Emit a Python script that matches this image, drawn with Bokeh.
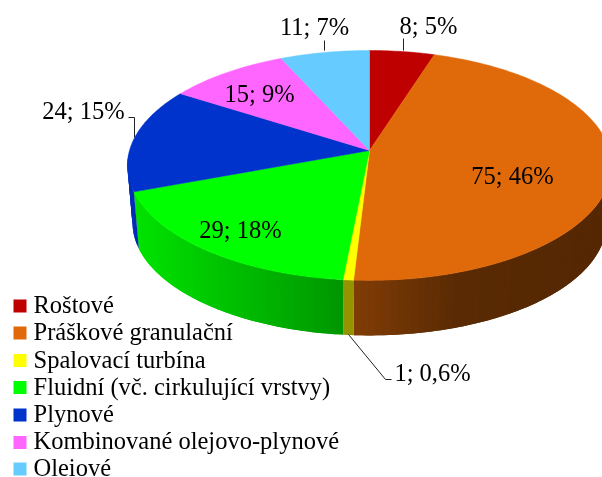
import numpy as np
from bokeh.core.properties import value
from bokeh.embed import file_html
from bokeh.models import Range1d
from bokeh.plotting import figure
from bokeh.resources import INLINE

names = ["Roštové", "Práškové granulační", "Spalovací turbína", "Fluidní (vč. cirkulující vrstvy)",
         "Plynové", "Kombinované olejovo-plynové", "Oleiové"]
values = [8, 75, 1, 29, 24, 15, 11]
percent = ["5%", "46%", "0,6%", "18%", "15%", "9%", "7%"]
colors = ["#BF0000", "#E06A0A", "#FFFF00", "#00FF00", "#0033CC", "#FF66FF", "#66CCFF"]
label_x = [428, 512, 432, 240, 83, 259, 314]
label_y = [25, 175, 372, 229, 110, 93, 26]
legend_y = [305.5, 332.5, 360, 387, 414.5, 442, 468.5]
legend_text_y = [304, 331, 358.5, 385.5, 413, 440, 466.5]
FONT = "Liberation Serif"
FS = "24.5px"

CX, CY, A, B, K = 369.0, 150.0, 240.0, 113.0, 0.13
F, D = 0.979, 60.9

def top(t):
    u, v = np.sin(t), -np.cos(t)
    w = 1 - K * v
    return CX + A * u / w, CY + B * v / w

def bottom(t):
    x, y = top(t)
    return CX + F * (x - CX), F * y + D

def shade(x):
    return np.interp(x, [127, 350, 460, 602], [0.90, 0.58, 0.40, 0.38])

def darker(hex_color, f):
    r, g, b = (int(hex_color[i:i + 2], 16) for i in (1, 3, 5))
    return "#%02x%02x%02x" % (int(r * f), int(g * f), int(b * f))

p = figure(width=602, height=477, output_backend="svg", toolbar_location=None,
           x_range=Range1d(0, 602), y_range=Range1d(477, 0), min_border=0,
           outline_line_color=None, background_fill_color="white",
           styles={"position": "fixed", "left": "0", "top": "0"})
p.axis.visible = False
p.grid.visible = False

bounds = np.cumsum([0] + values) / sum(values) * 2 * np.pi

# pie side, split into narrow strips; each overlaps the next to avoid seams
xs, ys, cs = [], [], []
for i, col in enumerate(colors):
    lo, hi = max(bounds[i], np.radians(95)), min(bounds[i + 1], np.radians(268))
    if hi <= lo:
        continue
    edges = np.linspace(lo, hi, max(2, int(np.degrees(hi - lo) / 1.5) + 1))
    step = edges[1] - edges[0]
    for a in edges[:-1]:
        b = a + step
        mid_x = top(np.array([a + step / 2]))[0][0]
        b2 = min(b + step, hi)
        tx, ty = top(np.linspace(a, b2, 4))
        bx, by = bottom(np.linspace(b2, a, 4))
        xs.append(list(tx) + list(bx))
        ys.append(list(ty) + list(by))
        cs.append(darker(col, float(shade(mid_x))))
p.patches(xs, ys, fill_color=cs, line_color=None)

# leader lines
p.line([403, 403], [50, 38], line_color="#222222", line_width=1)
p.line([324, 324], [50, 40], line_color="#222222", line_width=1)
p.line([134, 134, 128], [137, 117, 117], line_color="#222222", line_width=1)
p.line([348, 385, 391], [334, 379, 379], line_color="#222222", line_width=1)

# pie top
for i, col in enumerate(colors):
    ts = np.linspace(bounds[i], bounds[i + 1], max(2, int(np.degrees(bounds[i + 1] - bounds[i])) + 2))
    x, y = top(ts)
    p.patch([CX] + list(x), [CY] + list(y), fill_color=col, line_color=col, line_width=0.5)

texts = [f"{v}; {t}" for v, t in zip(values, percent)]
p.text(label_x, label_y, text=texts, text_font=value(FONT), text_font_size=FS,
       text_align="center", text_baseline="middle", text_color="black")

# legend
p.rect([19.5] * len(names), legend_y, width=13, height=13, fill_color=colors, line_color=None)
p.text([33] * len(names), legend_text_y, text=names, text_font=value(FONT), text_font_size=FS,
       text_align="left", text_baseline="middle", text_color="black")

open("out.html", "w").write(file_html(p, INLINE))
